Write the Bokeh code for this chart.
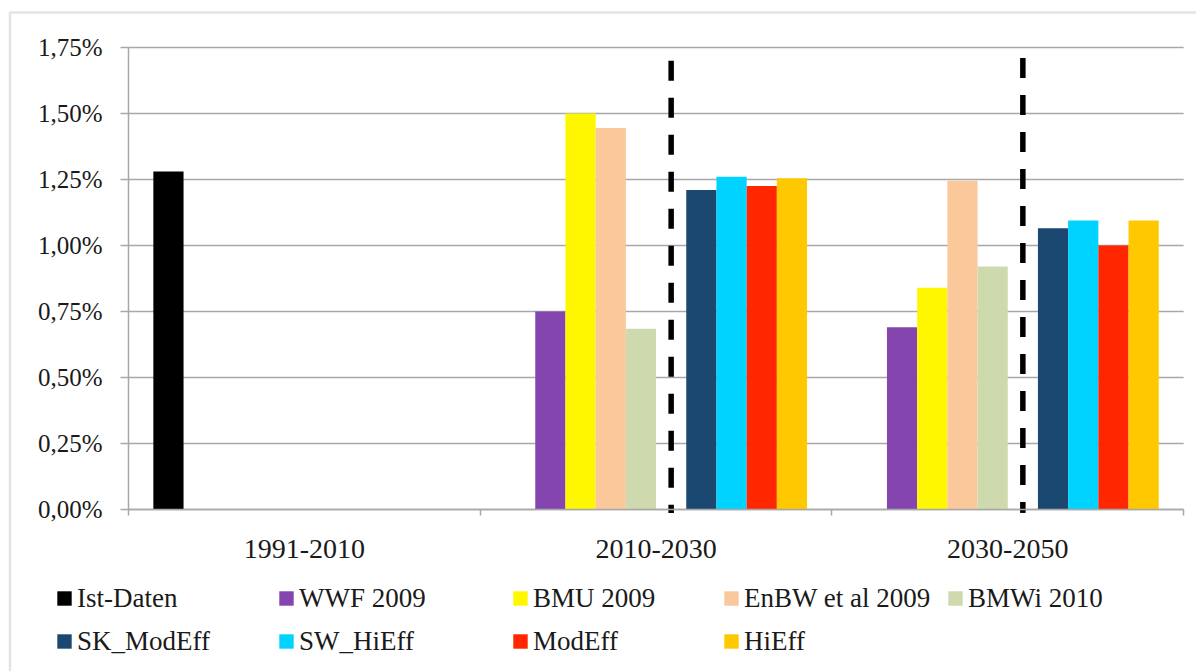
from bokeh.plotting import figure
from bokeh.models import (ColumnDataSource, FixedTicker, Legend, LegendItem, Range1d,
                          BoxAnnotation)
from bokeh.transform import dodge
from bokeh.embed import file_html
from bokeh.resources import INLINE

nan = float("nan")

# ---------------- data ----------------
categories = ["1991-2010", "2010-2030", "2030-2050"]
series_names = ["Ist-Daten", "WWF 2009", "BMU 2009", "EnBW et al 2009", "BMWi 2010",
                "SK_ModEff", "SW_HiEff", "ModEff", "HiEff"]
ist_daten = [1.28, nan, nan]
wwf_2009 = [nan, 0.75, 0.69]
bmu_2009 = [nan, 1.50, 0.84]
enbw_2009 = [nan, 1.445, 1.245]
bmwi_2010 = [nan, 0.685, 0.92]
sk_modeff = [nan, 1.21, 1.065]
sw_hieff = [nan, 1.26, 1.095]
modeff = [nan, 1.225, 1.00]
hieff = [nan, 1.255, 1.095]
separator_top = [nan, 1.70, 1.71]
separator_bottom = [nan, -0.013, -0.013]
y_ticks = [0.0, 0.25, 0.5, 0.75, 1.0, 1.25, 1.5, 1.75]
y_tick_labels = ["0,00%", "0,25%", "0,50%", "0,75%", "1,00%", "1,25%", "1,50%", "1,75%"]

# ---------------- layout / styles ----------------
W, H = 1196, 671
AX_X = 128          # page x of the value axis
AX_Y = 509          # page y of the 0 % line
CAT_PX = 351.7      # px per category
VAL_PX = 264.0      # px per 1 (percent unit)
colors = ["#000000", "#8446AE", "#FFF700", "#FAC89B", "#CFD9AE",
          "#1B4870", "#00D3FF", "#FF2600", "#FFC800"]
series_slots = [0, 1, 2, 3, 4, 6, 7, 8, 9]
separator_slot = 5
n_slots = 10
slot_w = 30.2 / CAT_PX
FONT = "Liberation Serif"
GRID = "#A8A8A8"
TXT = "#1a1a1a"

columns = ["ist", "wwf", "bmu", "enbw", "bmwi", "sk", "sw", "mod", "hi"]
series_values = [ist_daten, wwf_2009, bmu_2009, enbw_2009, bmwi_2010,
                 sk_modeff, sw_hieff, modeff, hieff]
data = dict(x=[i + 0.5 for i in range(len(categories))],
            sep_top=separator_top, sep_bottom=separator_bottom)
for c, v in zip(columns, series_values):
    data[c] = v
source = ColumnDataSource(data)

x_range = Range1d(-AX_X / CAT_PX, (W - AX_X) / CAT_PX)
y_range = Range1d(-(H - AX_Y) / VAL_PX, AX_Y / VAL_PX)

p = figure(width=W, height=H, x_range=x_range, y_range=y_range,
           output_backend="svg", toolbar_location=None,
           min_border_left=0, min_border_right=0, min_border_top=0, min_border_bottom=0)
p.outline_line_color = None
p.background_fill_color = "white"
p.border_fill_color = "white"

# outer chart border (only top & left edges are inside the window)
p.add_layout(BoxAnnotation(left=(9.5 - AX_X) / CAT_PX, right=10,
                           top=(AX_Y - 12) / VAL_PX, bottom=-10,
                           fill_alpha=0, line_color="#A6A6A6", line_width=2.5))

# horizontal gridlines limited to the plot area
p.segment(x0=[0] * len(y_ticks), x1=[len(categories)] * len(y_ticks),
          y0=y_ticks, y1=y_ticks, line_color=GRID, line_width=1.5)

def off(slot):
    return (slot - (n_slots - 1) / 2) * slot_w

renderers = []
for name, c, col, slot in zip(series_names, columns, colors, series_slots):
    r = p.vbar(x=dodge("x", off(slot)), top=c, width=slot_w, bottom=0,
               source=source, fill_color=col, line_color=None)
    renderers.append(r)

p.segment(x0=dodge("x", off(separator_slot)), x1=dodge("x", off(separator_slot)),
          y0="sep_top", y1="sep_bottom", source=source,
          line_color="black", line_width=5.5, line_dash="20 17")

# y axis
yax = p.yaxis[0]
yax.fixed_location = 0
yax.bounds = (0, y_ticks[-1])
yax.ticker = FixedTicker(ticks=y_ticks, minor_ticks=[])
yax.major_label_overrides = {t: l for t, l in zip(y_ticks, y_tick_labels)}
yax.axis_line_color = GRID
yax.axis_line_width = 1.5
yax.major_tick_line_color = GRID
yax.major_tick_line_width = 1.5
yax.major_tick_out = 8
yax.major_tick_in = 0
yax.minor_tick_line_color = None
yax.major_label_standoff = 18
yax.major_label_text_font = FONT
yax.major_label_text_font_size = "25px"
yax.major_label_text_color = TXT

# x axis
xax = p.xaxis[0]
xax.fixed_location = 0
xax.bounds = (0, len(categories))
xax.ticker = FixedTicker(ticks=[i + 0.5 for i in range(len(categories))],
                         minor_ticks=list(range(len(categories) + 1)))
xax.major_label_overrides = {i + 0.5: c for i, c in enumerate(categories)}
xax.axis_line_color = GRID
xax.axis_line_width = 1.5
xax.major_tick_line_color = None
xax.major_tick_out = 0
xax.major_tick_in = 0
xax.minor_tick_line_color = GRID
xax.minor_tick_line_width = 1.5
xax.minor_tick_out = 6
xax.minor_tick_in = 0
xax.major_label_standoff = 24
xax.major_label_text_font = FONT
xax.major_label_text_font_size = "28px"
xax.major_label_text_color = TXT

p.xgrid.visible = False
p.ygrid.visible = False

# legend: five columns
legend_columns = [[0, 5], [1, 6], [2, 7], [3, 8], [4]]
col_glyph_left = [57, 279, 513, 724, 948]   # page px of the coloured squares
item_h = 32
gap = 11
row1_center = 598
for idxs, gx in zip(legend_columns, col_glyph_left):
    items = [LegendItem(label=series_names[i], renderers=[renderers[i]]) for i in idxs]
    n = len(idxs)
    height = n * item_h + (n - 1) * gap
    top = row1_center - item_h // 2
    lg = Legend(items=items, orientation="vertical",
                location=(gx - 2, H - (top + height)),
                padding=0, margin=0, spacing=gap,
                glyph_width=18, glyph_height=18, label_height=item_h,
                label_standoff=4, border_line_color=None, background_fill_alpha=0,
                label_text_font=FONT, label_text_font_size="27px",
                label_text_color=TXT)
    p.add_layout(lg, "center")

open("out.html", "w").write(file_html(p, INLINE))
